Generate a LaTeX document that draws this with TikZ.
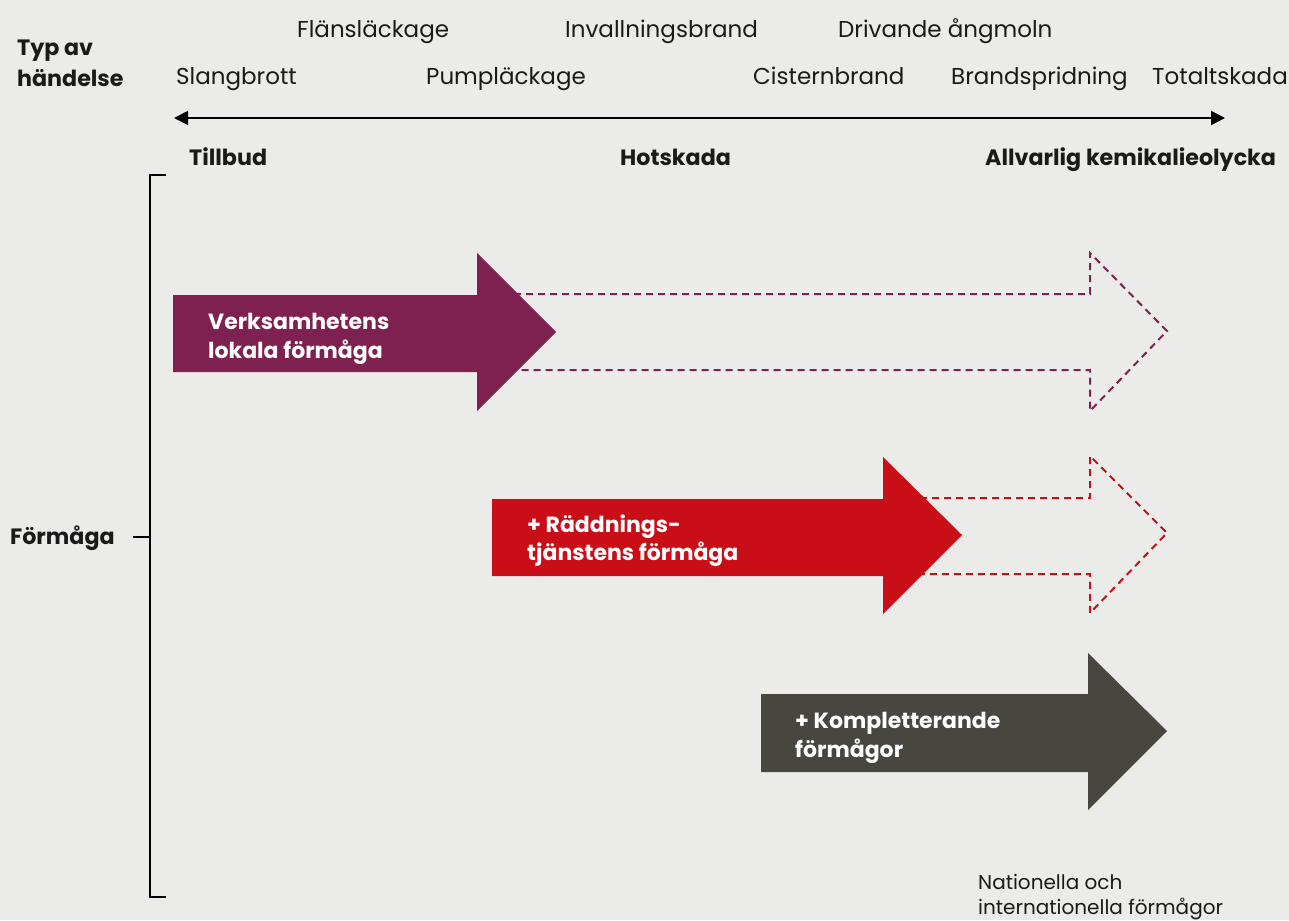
\documentclass[tikz,border=0pt]{standalone}
\usepackage{fontspec}
\setmainfont{Poppins}
\usetikzlibrary{arrows.meta}
\definecolor{bg}{HTML}{EBEBE9}
\definecolor{cpurple}{HTML}{7E2151}
\definecolor{cred}{HTML}{C90E17}
\definecolor{cdark}{HTML}{474740}
\definecolor{ctext}{HTML}{1A1A1A}
\tikzset{
  lbl/.style={anchor=base west,inner sep=0pt,text=ctext,font=\fontsize{23}{27}\selectfont},
  blbl/.style={anchor=base west,inner sep=0pt,text=ctext,font=\fontsize{22.2}{27}\selectfont\bfseries},
  wlbl/.style={anchor=base west,inner sep=0pt,text=white,font=\fontsize{22}{27}\selectfont\bfseries},
  axisline/.style={line width=2pt,{Triangle[length=14pt,width=14pt]}-{Triangle[length=14pt,width=14pt]}},
  brk/.style={line width=2pt,black},
  dashout/.style={line width=2pt,dash pattern=on 7pt off 5pt},
}
\begin{document}
\begin{tikzpicture}[x=1pt,y=-1pt]
\fill[bg] (0,0) rectangle (1289,920);
\useasboundingbox (0,0) rectangle (1289,920);
% headers
\node[blbl] (typ) at (17,56) {Typ av};
\node[blbl] (hand) at (17,87) {händelse};
\node[lbl] (slang) at (176,85) {Slangbrott};
\node[lbl] (flans) at (297,38) {Flänsläckage};
\node[lbl] (pump) at (426,85) {Pumpläckage};
\node[lbl] (inval) at (565,38) {Invallningsbrand};
\node[lbl] (cist) at (753,85) {Cisternbrand};
\node[lbl] (driv) at (838,38) {Drivande ångmoln};
\node[lbl] (brand) at (951,85) {Brandspridning};
\node[lbl] (total) at (1152,85) {Totaltskada};
% axis
\coordinate (axl) at (174,118);
\coordinate (axr) at (1225,118);
\draw[axisline] (axl) -- (axr);
\node[blbl] (till) at (189,166) {Tillbud};
\node[blbl] (hot) at (620,166) {Hotskada};
\node[blbl] (allv) at (985,166) {Allvarlig kemikalieolycka};
% bracket
\coordinate (bt) at (150,175);
\coordinate (bb) at (150,897);
\coordinate (bm) at (150,537);
\draw[brk] (166,175) -- (bt) -- (bb) -- (166,897);
\draw[brk] (133,537) -- (bm);
\node[blbl] (form) at (10,544) {Förmåga};
% dashed outlines
\draw[dashout,cpurple] (478,294) -- (1090,294) -- (1090,253) -- (1167,331) -- (1090,411) -- (1090,370) -- (478,370);
\draw[dashout,cred] (884,498) -- (1090,498) -- (1090,456) -- (1167,533) -- (1090,613) -- (1090,574) -- (884,574);
% solid arrows
\fill[cpurple] (173,295) -- (477,295) -- (477,253) -- (556,332) -- (477,411) -- (477,372) -- (173,372) -- cycle;
\fill[cred] (492,499) -- (883,499) -- (883,457) -- (962,535) -- (883,614) -- (883,576) -- (492,576) -- cycle;
\fill[cdark] (761,694) -- (1088,694) -- (1088,653) -- (1167,731) -- (1088,810) -- (1088,772) -- (761,772) -- cycle;
% arrow texts
\node[wlbl] (v1) at (208,329) {Verksamhetens};
\node[wlbl] (v2) at (208,358) {lokala förmåga};
\node[wlbl] (r1) at (527,532) {+ Räddnings-};
\node[wlbl] (r2) at (527,560) {tjänstens förmåga};
\node[wlbl] (k1) at (795,728) {+ Kompletterande};
\node[wlbl] (k2) at (795,757) {förmågor};
% footnote
\node[lbl,font=\fontsize{20}{24}\selectfont] (nat1) at (978,889) {Nationella och};
\node[lbl,font=\fontsize{20}{24}\selectfont] (nat2) at (978,914) {internationella förmågor};
\end{tikzpicture}
\end{document}
